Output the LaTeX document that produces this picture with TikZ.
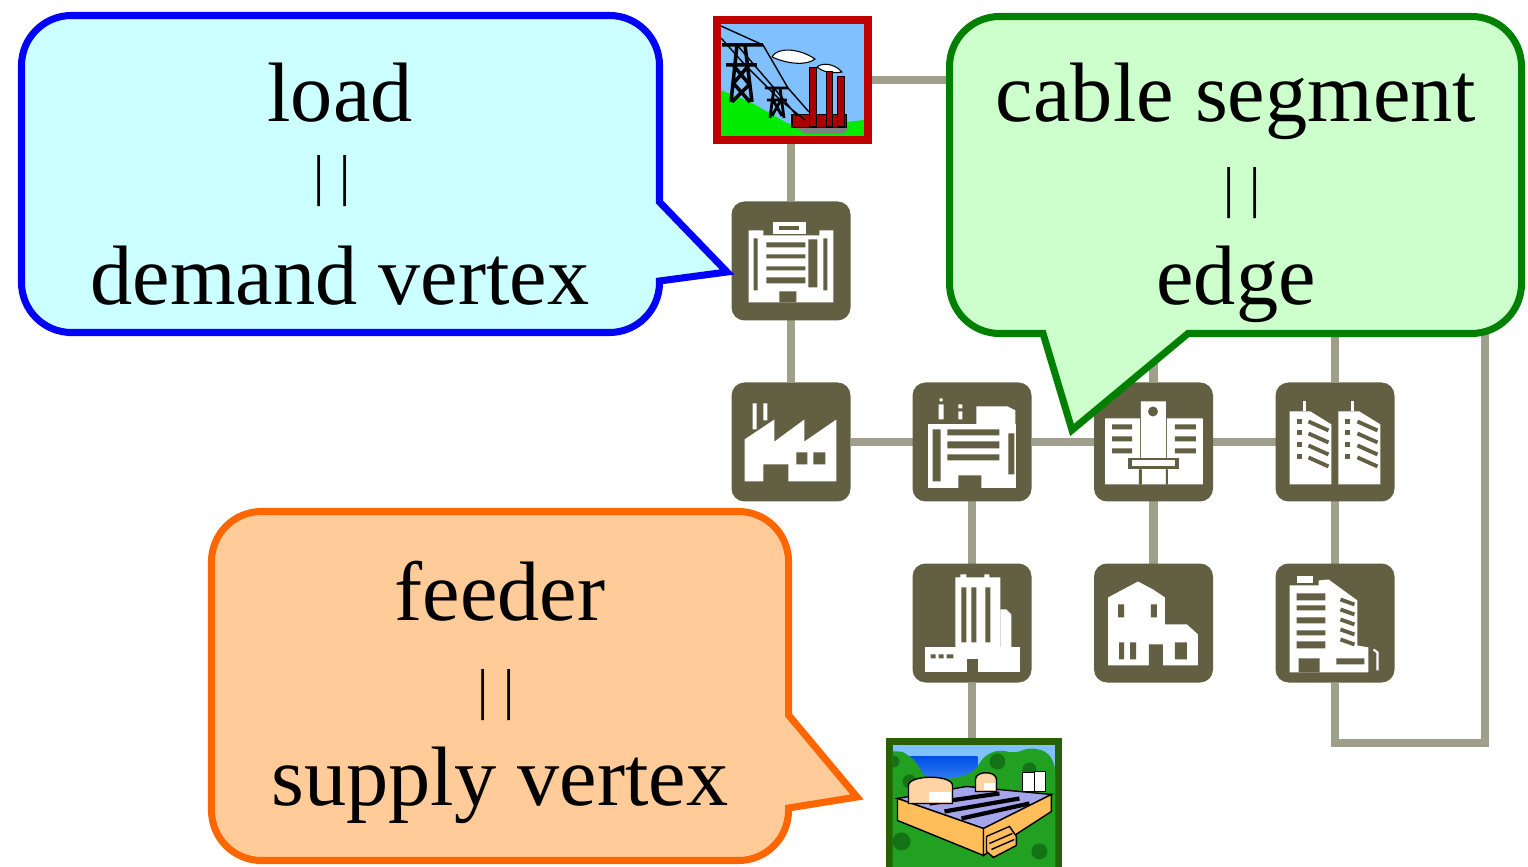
\documentclass[tikz,border=0pt]{standalone}
\usepackage{fontspec}
\setmainfont{Liberation Serif}
\usetikzlibrary{backgrounds}

\definecolor{iconolive}{RGB}{98,95,66}
\definecolor{cablegrey}{RGB}{160,159,140}
\definecolor{coalred}{RGB}{192,0,0}
\definecolor{chimneyred}{RGB}{170,0,0}
\definecolor{nukegreen}{RGB}{40,96,8}
\definecolor{skyblue}{RGB}{128,192,255}
\definecolor{seablue}{RGB}{0,80,230}
\definecolor{hillgreen}{RGB}{0,235,0}
\definecolor{treegreen}{RGB}{34,160,34}
\definecolor{darktree}{RGB}{20,115,20}
\definecolor{slabtan}{RGB}{255,190,90}
\definecolor{slablilac}{RGB}{165,165,235}
\definecolor{domepeach}{RGB}{255,212,165}
\definecolor{loadblue}{RGB}{0,0,255}
\definecolor{loadfill}{RGB}{204,255,255}
\definecolor{edgegreen}{RGB}{0,128,0}
\definecolor{edgefill}{RGB}{204,255,204}
\definecolor{feedorange}{RGB}{255,102,0}
\definecolor{feedfill}{RGB}{255,204,153}

\tikzset{
  pixgrid/.style={x=0.01cm, y=-0.01cm},
  demand/.style={fill=iconolive, rounded corners=0.13cm, minimum size=1.19cm,
    inner sep=0pt, outer sep=0pt},
  supply/.style={draw=#1, fill=skyblue, line width=2.2pt, inner sep=0pt, outer sep=0pt},
  cable/.style={draw=cablegrey, line width=2.3pt},
  callout/.style 2 args={draw=#1, fill=#2, line width=2pt, line join=miter},
  bigtext/.style={font=\fontsize{24}{26}\selectfont, anchor=base, inner sep=0pt},
  eqbars/.style={font=\fontsize{16}{16}\selectfont, anchor=base, inner sep=0pt},
  % pictograms, drawn in pixels from the top left corner of the tile
  pics/loadblock/.style={code={\begin{scope}[pixgrid]
    \fill[white] (42,21) rectangle (75,33);
    \fill[iconolive] (48,25) rectangle (68,29);
    \fill[white] (17,29) rectangle (32,101) (88,29) rectangle (102,101) (32,34) rectangle (88,101);
    \fill[iconolive] (22,37) rectangle (26,89) (92,37) rectangle (96,89);
    \fill[iconolive] (35,41) rectangle (74,46) (35,53) rectangle (74,57)
      (35,65) rectangle (74,69) (35,76) rectangle (74,82);
    \fill[iconolive] (77,38) rectangle (86,86) (48,90) rectangle (65,101);
  \end{scope}}},
  pics/factory/.style={code={\begin{scope}[pixgrid]
    \fill[white] (13,99) -- (13,57) -- (43,37) -- (43,59) -- (73,37) -- (73,59)
      -- (105,37) -- (105,99) -- cycle;
    \fill[white] (21,21) rectangle (25,47) (32,21) rectangle (36,38);
    \fill[iconolive] (32,82) rectangle (57,100) (65,70) rectangle (76,82) (82,70) rectangle (94,82);
  \end{scope}}},
  pics/works/.style={code={\begin{scope}[pixgrid]
    \fill[white] (27,16) rectangle (30,19) (26,22) rectangle (31,37);
    \fill[white] (46,22) rectangle (50,26) (46,29) rectangle (50,37);
    \fill[white] (64,44) -- (64,24) -- (95,24) -- (103,28) -- (103,44) -- cycle;
    \fill[white] (15,42) rectangle (104,106);
    \fill[iconolive] (20,47) rectangle (28,99) (35,47) rectangle (87,53) (35,59) rectangle (87,66)
      (35,72) rectangle (87,78) (96,51) rectangle (102,92) (46,93) rectangle (69,107);
  \end{scope}}},
  pics/hospital/.style={code={\begin{scope}[pixgrid]
    \fill[white] (11,36) rectangle (46,102) (47,19) rectangle (72,102) (73,36) rectangle (109,102);
    \fill[iconolive] (59,29) circle [radius=5];
    \fill[iconolive] (18,42) rectangle (38,47) (18,54) rectangle (38,59) (18,66) rectangle (38,71);
    \fill[iconolive] (81,42) rectangle (102,47) (81,54) rectangle (102,59) (81,66) rectangle (102,71);
    \fill[iconolive] (34,76) rectangle (85,87);
    \fill[white] (38,78) rectangle (81,84);
    \fill[iconolive] (45,87) rectangle (48,102) (72,87) rectangle (74,102);
  \end{scope}}},
  pics/towers/.style={code={\begin{scope}[pixgrid]
    \foreach \dx in {0,49} {
      \fill[white] (14+\dx,102) -- (14+\dx,29) -- (35+\dx,29) -- (56+\dx,42) -- (56+\dx,102) -- cycle;
      \fill[white] (27+\dx,19) rectangle (30+\dx,29);
      \foreach \wy in {37,48,60,72}
        \fill[iconolive] (21+\dx,\wy) rectangle (26+\dx,\wy+5);
      \foreach \wy in {39,51,63,75}
        \draw[iconolive, line width=1.1pt] (33+\dx,\wy) -- (53+\dx,\wy+9);
    }
  \end{scope}}},
  pics/tower/.style={code={\begin{scope}[pixgrid]
    \fill[white] (43,14) rectangle (88,95) (48,11) rectangle (54,14) (72,11) rectangle (77,14);
    \fill[iconolive] (49,24) rectangle (54,79) (59,24) rectangle (64,79) (73,24) rectangle (78,79);
    \fill[white] (88,95) -- (88,46) -- (94,46) -- (99,51) -- (99,95) -- cycle;
    \fill[white] (12,84) rectangle (108,109);
    \fill[iconolive] (18,91) rectangle (23,95) (26,91) rectangle (31,95) (34,91) rectangle (41,95);
    \fill[iconolive] (55,96) rectangle (66,109);
  \end{scope}}},
  pics/house/.style={code={\begin{scope}[pixgrid]
    \fill[white] (14,102) -- (14,34) -- (29,26) -- (44,18) -- (59,26) -- (71,34) -- (71,61)
      -- (93,61) -- (104,71) -- (104,102) -- cycle;
    \fill[iconolive] (24,41) rectangle (30,54) (57,41) rectangle (63,54) (25,79) rectangle (30,96)
      (36,79) rectangle (42,96) (55,81) rectangle (69,103) (81,79) rectangle (93,96);
  \end{scope}}},
  pics/offices/.style={code={\begin{scope}[pixgrid]
    \fill[white] (21,13) rectangle (37,20);
    \fill[white] (14,109) -- (14,22) -- (43,22) -- (43,17) -- (53,16) -- (82,37) -- (82,82)
      -- (93,84) -- (93,109) -- cycle;
    \fill[iconolive] (21,30) rectangle (50,37) (21,42) rectangle (50,47) (21,54) rectangle (50,60)
      (21,67) rectangle (50,72) (21,78) rectangle (50,85);
    \foreach \wy in {36,46,56,66,76}
      \draw[iconolive, line width=1.1pt] (65,\wy) -- (79,\wy+5);
    \fill[iconolive] (23,95) rectangle (44,109) (61,95) rectangle (89,101);
    \draw[white, line width=0.6pt] (102,107) -- (102,89) -- (98,86);
  \end{scope}}},
  pics/coalplant/.style={code={\begin{scope}[pixgrid]
    \clip (4,4) rectangle (147,116);
    \fill[hillgreen] (3,70) -- (33,82) -- (70,103) -- (83,107) -- (123,103) -- (147,100)
      -- (147,120) -- (0,120) -- cycle;
    \fill[gray] (80,108) -- (132,108) -- (126,114) -- (88,114) -- cycle;
    % smoke
    \filldraw[fill=white, draw=black, line width=0.3pt] (55,37) .. controls (60,27) and (82,28) .. (98,39)
      .. controls (90,46) and (70,44) .. (55,37);
    \filldraw[fill=white, draw=black, line width=0.3pt] (100,47) .. controls (106,42) and (118,44) .. (125,52)
      .. controls (115,54) and (106,52) .. (100,47);
    % chimneys
    \filldraw[fill=chimneyred, draw=black, line width=0.3pt] (75,95) rectangle (130,108);
    \filldraw[fill=chimneyred, draw=black, line width=0.3pt] (93,48) rectangle (100,107)
      (110,52) rectangle (116,107) (121,57) rectangle (128,107);
    % pylons and wires
    \draw[black, line width=0.4pt] (4,6) -- (46,25) -- (71,68) -- (92,92)
      (4,18) -- (28,45) -- (63,80) -- (88,100) (20,25) -- (57,68) -- (80,96);
    \draw[black, line width=1pt] (14,82) -- (20,25) -- (28,25) -- (35,82)
      (5,25) -- (46,25) (9,45) -- (40,45) (16,45) -- (32,64) (32,45) -- (16,64)
      (17,64) -- (33,82) (33,64) -- (15,82);
    \draw[black, line width=0.8pt] (53,98) -- (57,68) -- (63,68) -- (67,98)
      (48,68) -- (71,68) (50,80) -- (70,80) (56,80) -- (65,96) (64,80) -- (55,96);
  \end{scope}}},
  pics/nukeplant/.style={code={\begin{scope}[pixgrid]
    \clip (3,3) rectangle (166,140);
    \shade[top color=seablue, bottom color=seablue!60!skyblue] (12,15) rectangle (88,38);
    \fill[treegreen, rounded corners=2pt] (0,140) -- (0,12) -- (8,8) -- (20,14) -- (28,22) -- (35,36)
      -- (50,38) -- (70,36) -- (85,30) -- (95,14) -- (110,8) -- (125,12) -- (140,6) -- (158,10)
      -- (166,24) -- (166,140) -- cycle;
    \fill[darktree] (4,20) circle [radius=6] (20,40) circle [radius=7] (108,20) circle [radius=8]
      (140,28) circle [radius=7] (12,100) circle [radius=9] (150,110) circle [radius=8];
    % plant slab
    \filldraw[fill=slablilac, draw=black, line width=0.4pt] (8,57) -- (77,45) -- (162,53) -- (94,87) -- cycle;
    \filldraw[fill=slabtan, draw=black, line width=0.4pt] (8,57) -- (94,87) -- (94,114) -- (8,79) -- cycle;
    \filldraw[fill=slabtan, draw=black, line width=0.4pt] (94,87) -- (162,53) -- (162,70) -- (94,114) -- cycle;
    \draw[black, line width=1.2pt] (40,62) -- (110,52) (55,70) -- (130,57) (72,77) -- (140,62);
    % domes and tanks
    \filldraw[fill=domepeach, draw=black, line width=0.4pt] (19,62) -- (19,44)
      .. controls (19,33) and (63,33) .. (63,44) -- (63,62) -- cycle;
    \fill[white] (40,51) rectangle (62,61);
    \filldraw[fill=domepeach, draw=black, line width=0.4pt] (86,50) -- (86,38)
      .. controls (86,29) and (107,29) .. (107,38) -- (107,50) -- cycle;
    \fill[white] (95,42) rectangle (106,49);
    \filldraw[fill=white, draw=black, line width=0.4pt] (133,50) rectangle (145,31) (145,50) rectangle (156,30);
    % stairs
    \filldraw[fill=slabtan, draw=black, line width=0.4pt] (97,95) -- (120,85) -- (127,95) -- (127,104)
      -- (104,116) -- (97,110) -- cycle;
    \draw[black, line width=0.4pt] (100,102) -- (123,92) (102,108) -- (125,98);
  \end{scope}}}
}

\begin{document}
\begin{tikzpicture}
    \useasboundingbox (0,0) rectangle (15.28,8.66);

    % Supply vertices
    \node[supply=coalred, minimum width=1.51cm, minimum height=1.20cm] (coal) at (7.925,7.86) {};
    \node[supply=nukegreen, minimum width=1.69cm, minimum height=1.35cm] (nuke) at (9.74,0.57) {};
    \pic at (coal.north west) {coalplant};
    \pic at (nuke.north west) {nukeplant};

    % Demand vertices
    \node[demand] (load) at (7.91,6.05) {};
    \node[demand] (factory) at (7.91,4.24) {};
    \node[demand] (works) at (9.72,4.24) {};
    \node[demand] (hospital) at (11.535,4.24) {};
    \node[demand] (towers) at (13.35,4.24) {};
    \node[demand] (tower) at (9.72,2.43) {};
    \node[demand] (house) at (11.535,2.43) {};
    \node[demand] (offices) at (13.35,2.43) {};

    \pic at (load.north west) {loadblock};
    \pic at (factory.north west) {factory};
    \pic at (works.north west) {works};
    \pic at (hospital.north west) {hospital};
    \pic at (towers.north west) {towers};
    \pic at (tower.north west) {tower};
    \pic at (house.north west) {house};
    \pic at (offices.north west) {offices};

    % Cable segments
    \coordinate (ring ne) at (14.85,7.86);
    \coordinate (ring se) at (14.85,1.23);
    \begin{scope}[on background layer]
        \draw[cable] (coal.south -| load) -- (load);
        \draw[cable] (load) -- (factory);
        \draw[cable] (factory) -- (works) -- (hospital) -- (towers);
        \draw[cable] (works) -- (tower);
        \draw[cable] (hospital) -- (house);
        \draw[cable] (towers) -- (offices);
        \draw[cable] (tower) -- (nuke.north -| tower);
        \draw[cable] (coal) -- (ring ne) -- (ring se) -- (ring se -| offices) -- (offices);
        \draw[cable] (hospital) -- (hospital |- ring ne);
        \draw[cable] (towers) -- (towers |- ring ne);
    \end{scope}

    % Callouts
    \draw[callout={loadblue}{loadfill}] (0.715,5.335) -- (6.095,5.335)
        arc [start angle=-90, end angle=0, radius=0.5] -- (6.595,5.85) -- (7.27,5.94)
        -- (6.595,6.64) -- (6.595,8.005) arc [start angle=0, end angle=90, radius=0.5]
        -- (0.715,8.505) arc [start angle=90, end angle=180, radius=0.5]
        -- (0.215,5.835) arc [start angle=180, end angle=270, radius=0.5] -- cycle;
    \node[bigtext] (load word) at (3.40,7.44) {load};
    \node[eqbars] (load eq) at (3.32,6.71) {| |};
    \node[bigtext] (load term) at (3.40,5.61) {demand vertex};

    \draw[callout={edgegreen}{edgefill}] (9.995,5.325) -- (10.43,5.325) -- (10.72,4.36)
        -- (11.88,5.325) -- (14.715,5.325) arc [start angle=-90, end angle=0, radius=0.5]
        -- (15.215,7.995) arc [start angle=0, end angle=90, radius=0.5]
        -- (9.995,8.495) arc [start angle=90, end angle=180, radius=0.5]
        -- (9.495,5.825) arc [start angle=180, end angle=270, radius=0.5] -- cycle;
    \node[bigtext] (edge word) at (12.36,7.44) {cable segment};
    \node[eqbars] (edge eq) at (12.42,6.59) {| |};
    \node[bigtext] (edge term) at (12.36,5.61) {edge};

    \draw[callout={feedorange}{feedfill}] (2.615,0.055) -- (7.385,0.055)
        arc [start angle=-90, end angle=0, radius=0.5] -- (7.885,0.58) -- (8.57,0.69)
        -- (7.885,1.51) -- (7.885,3.045) arc [start angle=0, end angle=90, radius=0.5]
        -- (2.615,3.545) arc [start angle=90, end angle=180, radius=0.5]
        -- (2.115,0.555) arc [start angle=180, end angle=270, radius=0.5] -- cycle;
    \node[bigtext] (feed word) at (5.00,2.46) {feeder};
    \node[eqbars] (feed eq) at (4.96,1.58) {| |};
    \node[bigtext] (feed term) at (5.00,0.61) {supply vertex};
\end{tikzpicture}
\end{document}
